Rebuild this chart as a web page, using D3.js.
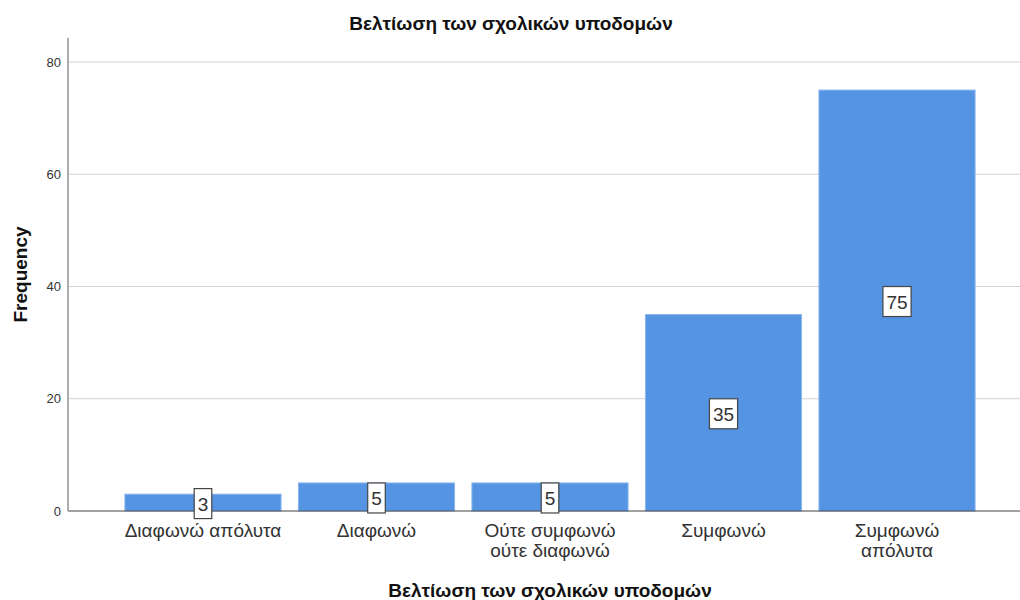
<!DOCTYPE html>
<html>
<head>
<meta charset="utf-8">
<script src="https://cdn.jsdelivr.net/npm/d3@7"></script>
<style>
  html, body { margin: 0; padding: 0; background: #fff; }
  svg { display: block; font-family: "Liberation Sans", Arial, sans-serif; }
</style>
</head>
<body>
<svg id="chart" width="1020" height="600"></svg>
<script>
// Responses to "Βελτίωση των σχολικών υποδομών"
const categories = [
  ["Διαφωνώ απόλυτα"],
  ["Διαφωνώ"],
  ["Ούτε συμφωνώ", "ούτε διαφωνώ"],
  ["Συμφωνώ"],
  ["Συμφωνώ", "απόλυτα"]
];
const frequencies = [3, 5, 5, 35, 75];
const yTicks = [0, 20, 40, 60, 80];
const chartTitle = "Βελτίωση των σχολικών υποδομών";
const xTitle = "Βελτίωση των σχολικών υποδομών";
const yTitle = "Frequency";

const svg = d3.select("#chart");
const W = 1020;
const plot = { left: 68, right: 1032, top: 38, bottom: 511 };

const keys = categories.map((c, i) => i);
const x = d3.scaleBand()
  .domain(keys)
  .range([plot.left, plot.right])
  .paddingInner(0.1)
  .paddingOuter(0.328);

const y = d3.scaleLinear()
  .domain([0, 80])
  .range([plot.bottom, 62]);

// Horizontal gridlines
svg.append("g")
  .selectAll("line")
  .data(yTicks.filter(t => t > 0))
  .join("line")
  .attr("x1", plot.left).attr("x2", W)
  .attr("y1", d => y(d)).attr("y2", d => y(d))
  .attr("stroke", "#d2d2d2")
  .attr("stroke-width", 1.2);

// Bars
svg.append("g")
  .selectAll("rect")
  .data(frequencies)
  .join("rect")
  .attr("x", (d, i) => x(i))
  .attr("width", x.bandwidth())
  .attr("y", d => y(d))
  .attr("height", d => y(0) - y(d))
  .attr("fill", "#5594e2")
  .attr("stroke", "#8bb5ec")
  .attr("stroke-width", 1);

// Baseline
svg.append("line")
  .attr("x1", plot.left).attr("x2", W)
  .attr("y1", y(0)).attr("y2", y(0))
  .attr("stroke", "#444")
  .attr("stroke-width", 1.2);

// Y axis
const yAxis = d3.axisLeft(y).tickValues(yTicks).tickSize(0).tickPadding(7);
const yg = svg.append("g")
  .attr("transform", `translate(${plot.left},0)`)
  .call(yAxis);
yg.select(".domain").remove();
yg.selectAll("text")
  .attr("font-size", 13)
  .attr("fill", "#333")
  .attr("font-family", "Liberation Sans, Arial, sans-serif");
svg.append("line")
  .attr("x1", plot.left).attr("x2", plot.left)
  .attr("y1", plot.top).attr("y2", plot.bottom)
  .attr("stroke", "#999")
  .attr("stroke-width", 1.6);

// Category labels
const catG = svg.append("g");
categories.forEach((lines, i) => {
  const t = catG.append("text")
    .attr("x", x(i) + x.bandwidth() / 2)
    .attr("y", 537)
    .attr("text-anchor", "middle")
    .attr("font-size", 19)
    .attr("fill", "#333");
  lines.forEach((ln, j) => {
    t.append("tspan")
      .attr("x", x(i) + x.bandwidth() / 2)
      .attr("dy", j === 0 ? 0 : 19.5)
      .text(ln);
  });
});

// Value labels in boxes
const labG = svg.append("g");
frequencies.forEach((v, i) => {
  const cx = x(i) + x.bandwidth() / 2;
  const cy = (y(v) + y(0)) / 2 + 1;
  const g = labG.append("g");
  const txt = g.append("text")
    .attr("x", cx)
    .attr("y", cy + 7)
    .attr("text-anchor", "middle")
    .attr("font-size", 19)
    .attr("fill", "#333")
    .text(v);
  const bw = txt.node().getComputedTextLength() + 7;
  g.insert("rect", "text")
    .attr("x", cx - bw / 2)
    .attr("y", cy - 15)
    .attr("width", bw)
    .attr("height", 30)
    .attr("fill", "#fff")
    .attr("stroke", "#444")
    .attr("stroke-width", 1.2);
});

// Titles
svg.append("text")
  .attr("x", 511).attr("y", 30)
  .attr("text-anchor", "middle")
  .attr("font-size", 19)
  .attr("font-weight", "bold")
  .attr("fill", "#111")
  .text(chartTitle);

svg.append("text")
  .attr("x", (plot.left + plot.right) / 2).attr("y", 597)
  .attr("text-anchor", "middle")
  .attr("font-size", 19)
  .attr("font-weight", "bold")
  .attr("fill", "#111")
  .text(xTitle);

svg.append("text")
  .attr("transform", `translate(27,${(plot.top + plot.bottom) / 2}) rotate(-90)`)
  .attr("text-anchor", "middle")
  .attr("font-size", 19)
  .attr("font-weight", "bold")
  .attr("fill", "#111")
  .text(yTitle);
</script>
</body>
</html>
